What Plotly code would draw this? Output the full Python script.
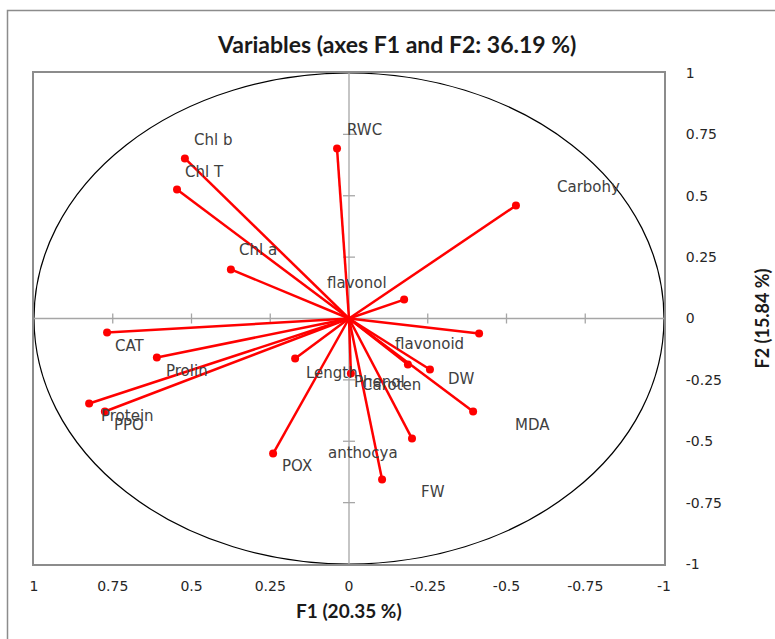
import plotly.graph_objects as go

# ---- data ----
variables = ["Chl b", "Chl T", "Chl a", "RWC", "Carbohy", "flavonol", "CAT", "Prolin",
             "Protein", "PPO", "Length", "POX", "flavonoid", "Phenol", "DW", "MDA",
             "anthocya", "FW", "Caroten"]
f1 = [0.521, 0.546, 0.375, 0.038, -0.530, -0.175, 0.768, 0.610,
      0.825, 0.775, 0.171, 0.241, -0.413, -0.187, -0.257, -0.394,
      -0.200, -0.105, -0.006]
f2 = [0.652, 0.525, 0.200, 0.692, 0.460, 0.077, -0.057, -0.159,
      -0.346, -0.379, -0.163, -0.550, -0.061, -0.187, -0.208, -0.379,
      -0.489, -0.656, -0.224]
tick_vals = [1, 0.75, 0.5, 0.25, 0, -0.25, -0.5, -0.75, -1]
tick_text = ["1", "0.75", "0.5", "0.25", "0", "-0.25", "-0.5", "-0.75", "-1"]
title_text = "Variables (axes F1 and F2: 36.19 %)"
x_title = "F1 (20.35 %)"
y_title = "F2 (15.84 %)"

# label offsets in pixels (style), dx to the right, dy upward
label_dx = [28, 27, 27, 27, 73, -47, 23, 30, 38, 24, 37, 24, -50, -28, 32, 59, -49, 51, 41]
label_dy = [18, 18, 19, 19, 19, 17, -14, -13, -13, -13, -14, -12, -11, -18, -9, -13, -14, -12, -12]

W, H = 775, 639
ML, MR, MT, MB = 34, 111, 73, 75
PW, PH = W - ML - MR, H - MT - MB

RED = "#ff0000"
GREY = "#a6a6a6"

fig = go.Figure()

# vectors
lx, ly = [], []
for a, b in zip(f1, f2):
    lx += [0, a, None]
    ly += [0, b, None]
fig.add_trace(go.Scatter(x=lx, y=ly, mode="lines", line=dict(color=RED, width=2.5),
                         hoverinfo="skip", showlegend=False))
fig.add_trace(go.Scatter(x=f1, y=f2, mode="markers", marker=dict(color=RED, size=8),
                         text=variables, showlegend=False))

shapes = []
# unit circle
shapes.append(dict(type="circle", xref="x", yref="y", x0=-1, x1=1, y0=-1, y1=1,
                   line=dict(color="black", width=1.2), layer="below"))
# zero axes
shapes.append(dict(type="line", xref="x", yref="y", x0=-1, x1=1, y0=0, y1=0,
                   line=dict(color=GREY, width=1.3), layer="below"))
shapes.append(dict(type="line", xref="x", yref="y", x0=0, x1=0, y0=-1, y1=1,
                   line=dict(color=GREY, width=1.3), layer="below"))
# crossing ticks on zero axes
hy = 5 / PH * 2
hx = 6 / PW * 2
for t in tick_vals:
    if t in (1, -1, 0):
        continue
    shapes.append(dict(type="line", xref="x", yref="y", x0=t, x1=t, y0=-hy, y1=hy,
                       line=dict(color=GREY, width=1.3), layer="below"))
    shapes.append(dict(type="line", xref="x", yref="y", x0=-hx, x1=hx, y0=t, y1=t,
                       line=dict(color=GREY, width=1.3), layer="below"))


def px_x(p):
    return (p - ML) / PW


def px_y(p):
    return (H - MB - p) / PH


# outer chart frame (partially visible)
shapes.append(dict(type="rect", xref="paper", yref="paper",
                   x0=px_x(7.5), x1=px_x(800), y0=px_y(660), y1=px_y(10.5),
                   line=dict(color="#8c8c8c", width=1.5), layer="below"))

annotations = []
for name, a, b, dx, dy in zip(variables, f1, f2, label_dx, label_dy):
    annotations.append(dict(x=a, y=b, xref="x", yref="y", text=name, showarrow=False,
                            xshift=dx, yshift=dy, xanchor="center", yanchor="middle",
                            font=dict(family="DejaVu Sans", size=15, color="#404040")))
annotations.append(dict(x=0.5, y=px_y(610), xref="paper", yref="paper", text="<b>" + x_title + "</b>",
                        showarrow=False, xanchor="center", yanchor="middle",
                        font=dict(family="Lato", size=19, color="#1a1a1a")))
annotations.append(dict(x=px_x(761), y=0.5, xref="paper", yref="paper", text="<b>" + y_title + "</b>",
                        textangle=-90, showarrow=False, xanchor="center", yanchor="middle",
                        font=dict(family="Lato", size=18, color="#1a1a1a")))
annotations.append(dict(x=px_x(396), y=px_y(44), xref="paper", yref="paper",
                        text="<b>" + title_text + "</b>", showarrow=False,
                        xanchor="center", yanchor="middle",
                        font=dict(family="Lato", size=23, color="#1a1a1a")))

fig.update_layout(
    width=W, height=H,
    margin=dict(l=ML, r=MR, t=MT, b=MB, pad=0),
    paper_bgcolor="white", plot_bgcolor="white",
    shapes=shapes, annotations=annotations,
    showlegend=False,
    xaxis=dict(range=[1, -1], tickvals=tick_vals, ticktext=tick_text,
               showgrid=False, zeroline=False, showline=True, mirror=True,
               linecolor="#8c8c8c", linewidth=2,
               ticks="outside", ticklen=8, tickcolor="rgba(0,0,0,0)",
               tickfont=dict(family="DejaVu Sans", size=14, color="#262626")),
    yaxis=dict(range=[-1, 1], tickvals=tick_vals, ticktext=tick_text, side="right",
               showgrid=False, zeroline=False, showline=True, mirror=True,
               linecolor="#8c8c8c", linewidth=2,
               ticks="outside", ticklen=17, tickcolor="rgba(0,0,0,0)",
               tickfont=dict(family="DejaVu Sans", size=14, color="#262626")),
)

fig.write_html("out.html")
